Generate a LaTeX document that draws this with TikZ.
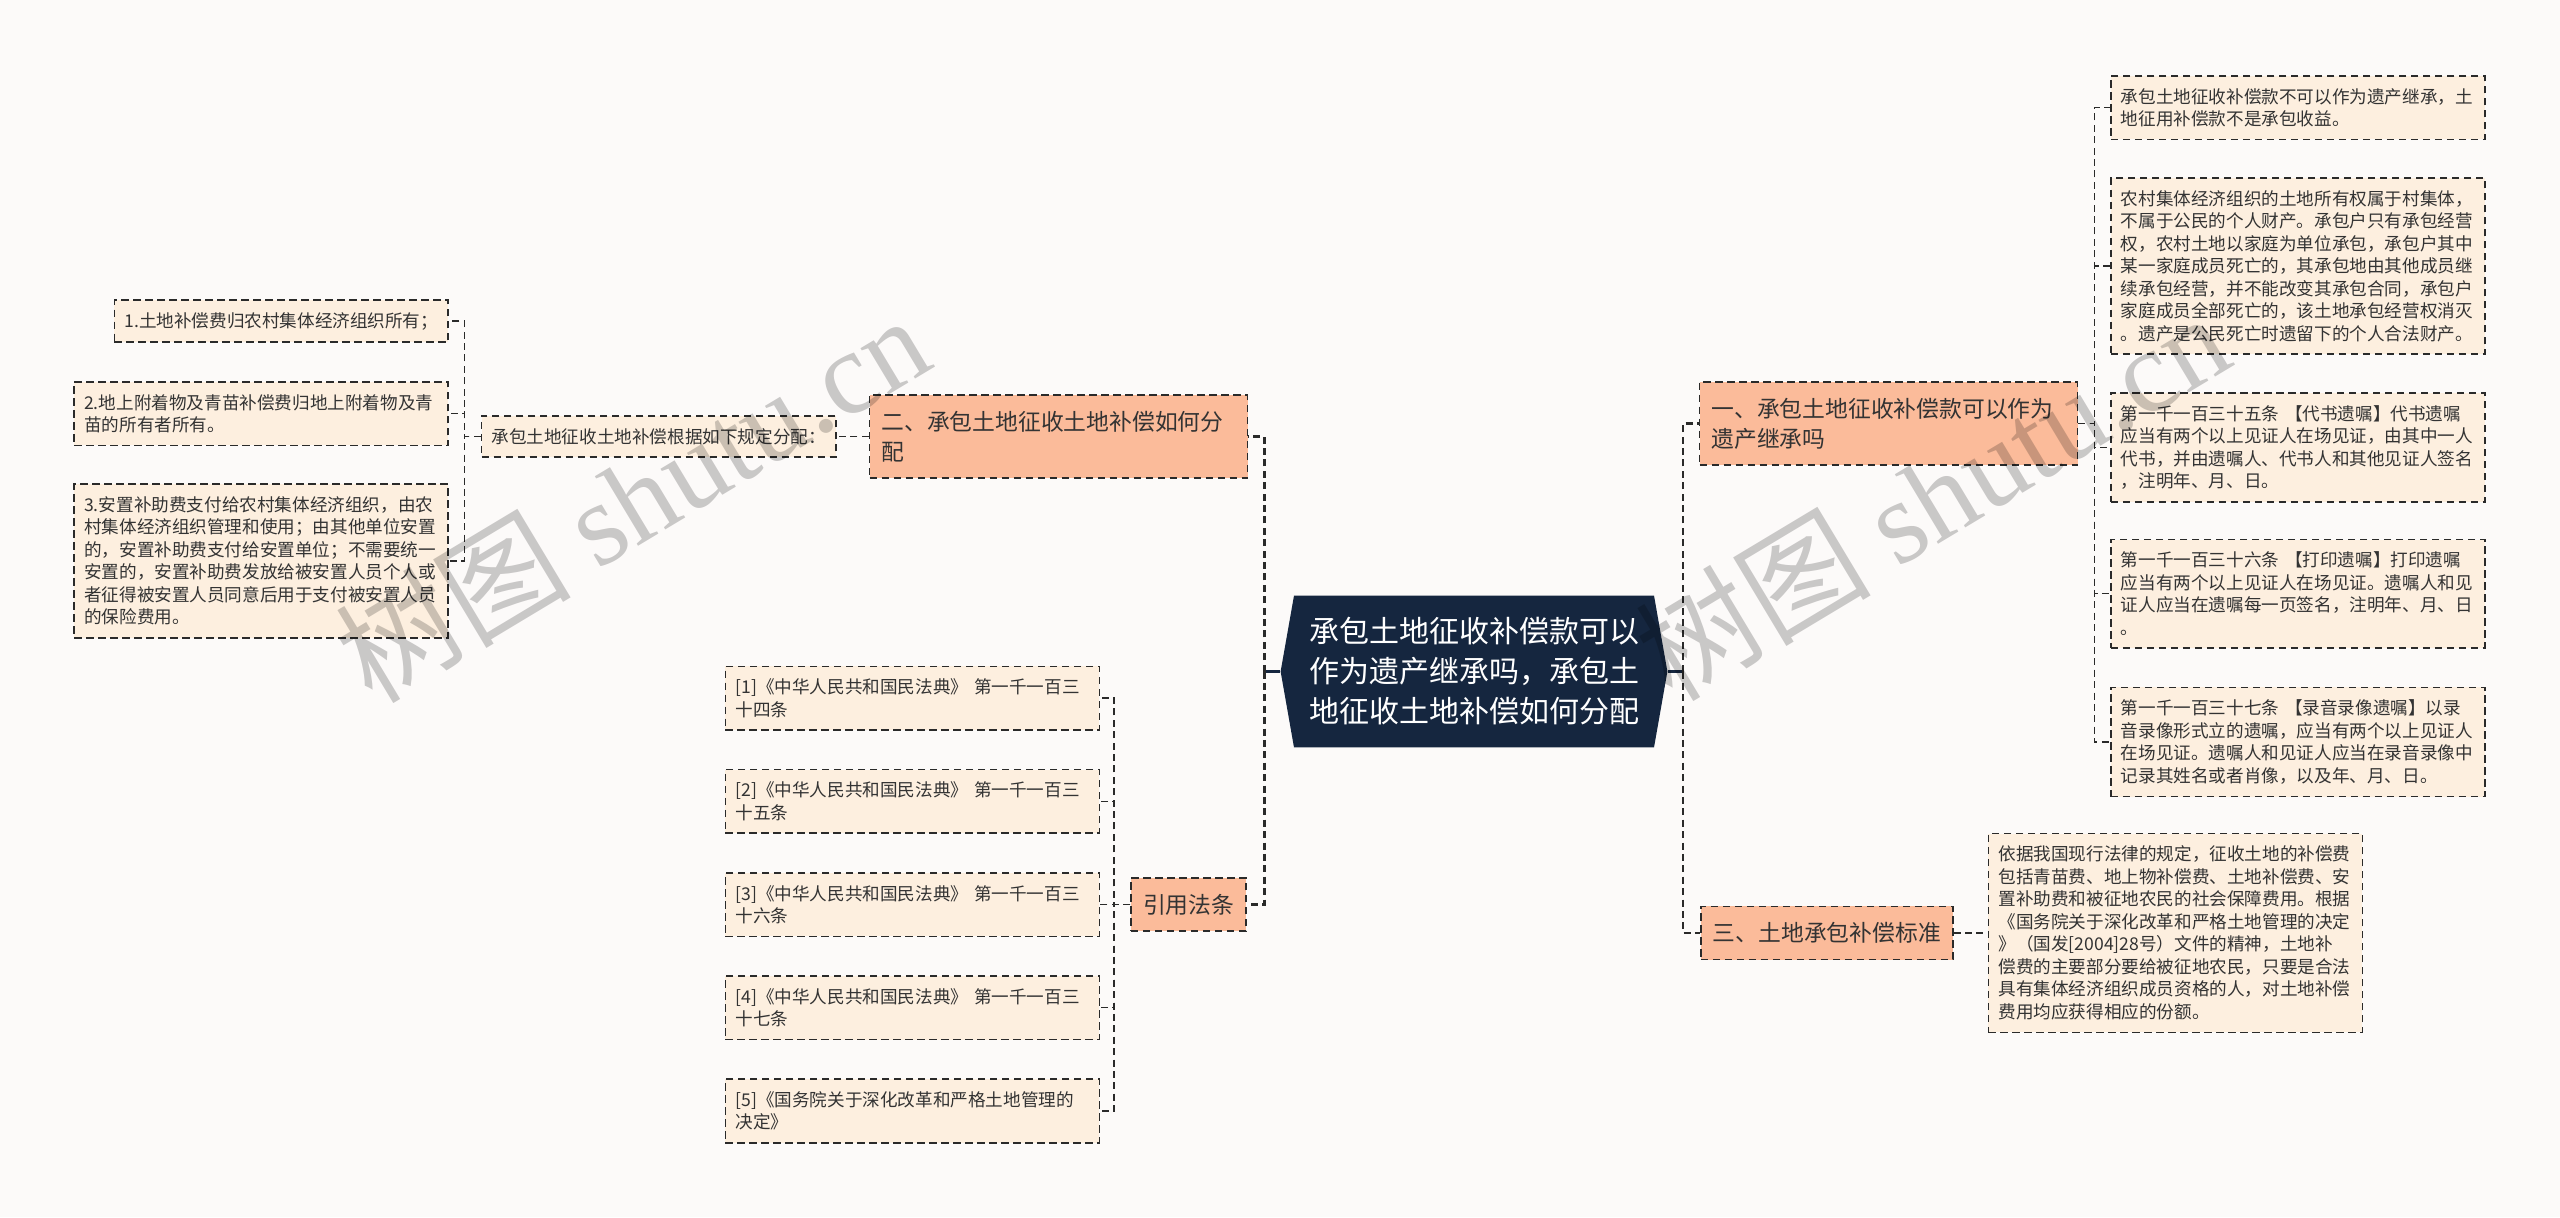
\documentclass[tikz,border=0pt]{standalone}
\usepackage{fontspec}
\setmainfont{Noto Sans CJK SC}
\newfontfamily\wmlatin{Liberation Serif}
\usepackage{tikz}
\usetikzlibrary{positioning,shapes.symbols}
\definecolor{paper}{HTML}{FCFAF9}
\definecolor{leaffill}{HTML}{FDEFDF}
\definecolor{topicfill}{HTML}{FBBB9A}
\definecolor{rootfill}{HTML}{15263F}
\definecolor{ink}{HTML}{333333}
\definecolor{edge}{HTML}{2A2A2A}
\tikzset{
  box/.style={draw=edge, line width=0.8pt, dash pattern=on 3.7pt off 2.3pt,
              text=ink, align=left, inner xsep=5pt, inner ysep=6.2pt},
  leaf/.style={box, fill=leaffill, text width=177pt,
               font=\fontsize{8.8pt}{11.25pt}\selectfont},
  note/.style={box, fill=leaffill, font=\fontsize{8.8pt}{11.25pt}\selectfont},
  topic/.style={box, fill=topicfill, inner xsep=6pt, inner ysep=8pt,
                font=\fontsize{11.4pt}{15pt}\selectfont},
  rootn/.style={signal, signal to=west and east, signal pointer angle=160,
                fill=rootfill, text=white, text width=165pt, align=center,
                inner xsep=7.5pt, inner ysep=11pt,
                font=\fontsize{15pt}{20pt}\selectfont},
  link/.style={draw=edge, line width=0.75pt, dash pattern=on 3.5pt off 2.2pt},
  mainlink/.style={link, line width=1.3pt},
  stub/.style={draw=rootfill, line width=1.6pt},
  % 水印
  wmark/.style={text=black, text opacity=0.2, rotate=31, anchor=base west,
                inner sep=0pt, font=\fontsize{59pt}{59pt}\selectfont},
}

\begin{document}
\begin{tikzpicture}[x=0.5pt, y=-0.5pt]
\path[use as bounding box, fill=paper] (0,0) rectangle (2560,1217);

% ---- 中心主题 ----
\node[rootn] (root) at (1474,671.5)
  {承包土地征收补偿款可以\\作为遗产继承吗，承包土\\地征收土地补偿如何分配};

% ---- 左侧：二 ----
\node[topic, text width=177pt] (n2) at (1058.5,436.5)
  {二、承包土地征收土地补偿如何分\\配};
\node[note, left=16pt of n2] (fenpei) {承包土地征收土地补偿根据如下规定分配：};
\node[note, anchor=north east] (l1) at (449,299) {1.土地补偿费归农村集体经济组织所有；};
\node[leaf, below=19pt of l1.south east, anchor=north east] (l2)
  {2.地上附着物及青苗补偿费归地上附着物及青\\苗的所有者所有。};
\node[leaf, below=18.5pt of l2] (l3)
  {3.安置补助费支付给农村集体经济组织，由农\\村集体经济组织管理和使用；由其他单位安置\\的，安置补助费支付给安置单位；不需要统一\\安置的，安置补助费发放给被安置人员个人或\\者征得被安置人员同意后用于支付被安置人员\\的保险费用。};

% ---- 左侧：引用法条 ----
\node[topic, anchor=east] (yin) at (1247,904.5) {引用法条};
\node[leaf, left=15pt of yin] (r3) {[3]《中华人民共和国民法典》 第一千一百三\\十六条};
\node[leaf, above=19pt of r3] (r2) {[2]《中华人民共和国民法典》 第一千一百三\\十五条};
\node[leaf, above=19pt of r2] (r1) {[1]《中华人民共和国民法典》 第一千一百三\\十四条};
\node[leaf, below=19pt of r3] (r4) {[4]《中华人民共和国民法典》 第一千一百三\\十七条};
\node[leaf, below=19pt of r4] (r5) {[5]《国务院关于深化改革和严格土地管理的\\决定》};

% ---- 右侧：一 ----
\node[topic, text width=177pt] (n1) at (1888.5,423.5)
  {一、承包土地征收补偿款可以作为\\遗产继承吗};
\node[leaf, anchor=north west] (c1) at (2110,75)
  {承包土地征收补偿款不可以作为遗产继承，土\\地征用补偿款不是承包收益。};
\node[leaf, below=18.5pt of c1] (c2)
  {农村集体经济组织的土地所有权属于村集体，\\不属于公民的个人财产。承包户只有承包经营\\权，农村土地以家庭为单位承包，承包户其中\\某一家庭成员死亡的，其承包地由其他成员继\\续承包经营，并不能改变其承包合同，承包户\\家庭成员全部死亡的，该土地承包经营权消灭\\。遗产是公民死亡时遗留下的个人合法财产。};
\node[leaf, below=18.5pt of c2] (c3)
  {第一千一百三十五条 【代书遗嘱】代书遗嘱\\应当有两个以上见证人在场见证，由其中一人\\代书，并由遗嘱人、代书人和其他见证人签名\\，注明年、月、日。};
\node[leaf, below=18pt of c3] (c4)
  {第一千一百三十六条 【打印遗嘱】打印遗嘱\\应当有两个以上见证人在场见证。遗嘱人和见\\证人应当在遗嘱每一页签名，注明年、月、日\\。};
\node[leaf, below=19pt of c4] (c5)
  {第一千一百三十七条 【录音录像遗嘱】以录\\音录像形式立的遗嘱，应当有两个以上见证人\\在场见证。遗嘱人和见证人应当在录音录像中\\记录其姓名或者肖像，以及年、月、日。};

% ---- 右侧：三 ----
\node[topic, anchor=west] (n3) at (1700,933) {三、土地承包补偿标准};
\node[leaf, right=17pt of n3] (n3c)
  {依据我国现行法律的规定，征收土地的补偿费\\包括青苗费、地上物补偿费、土地补偿费、安\\置补助费和被征地农民的社会保障费用。根据\\《国务院关于深化改革和严格土地管理的决定\\》（国发[2004]28号）文件的精神，土地补\\偿费的主要部分要给被征地农民，只要是合法\\具有集体经济组织成员资格的人，对土地补偿\\费用均应获得相应的份额。};

% ---- 连线 ----
\coordinate (lj) at ([xshift=-8pt]root.west);
\coordinate (rj) at ([xshift=7.5pt]root.east);
\draw[stub] (root.west) -- (lj);
\draw[stub] (root.east) -- (rj);
\draw[mainlink] (lj) |- (n2.east);
\draw[mainlink] (lj) |- (yin.east);
\draw[mainlink] (rj) |- (n1.west);
\draw[mainlink] (rj) |- (n3.west);

\draw[link] (n2.west) -- (fenpei.east);
\foreach \i in {1,2,3}
  \draw[link] (fenpei.west) -- ++(-8pt,0) |- (l\i.east);
\foreach \i in {1,...,5}
  \draw[link] (yin.west) -- ++(-8pt,0) |- (r\i.east);
\foreach \i in {1,...,5}
  \draw[link] (n1.east) -- ++(8pt,0) |- (c\i.west);
\draw[link] (n3.east) -- (n3c.west);

% ---- 水印 ----
\node[wmark] (wm1) at (372,706) {树图 {\wmlatin shutu.cn}};
\node[wmark] (wm2) at (1672,704) {树图 {\wmlatin shutu.cn}};

\end{tikzpicture}
\end{document}
